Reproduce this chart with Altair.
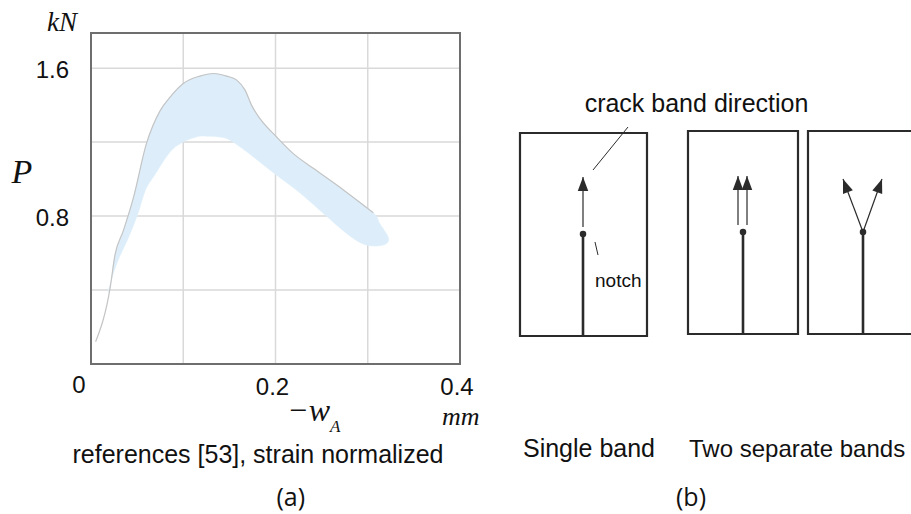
import math
import altair as alt
import pandas as pd

# ---------------- panel (a): load P [kN] vs. -w_A [mm] ----------------
upper_w = [0.005, 0.021, 0.026, 0.035, 0.046, 0.060, 0.075, 0.086, 0.100, 0.118,
           0.133, 0.147, 0.158, 0.167, 0.174, 0.183, 0.201, 0.219, 0.241, 0.274, 0.306]
upper_p = [0.12, 0.42, 0.59, 0.72, 0.90, 1.19, 1.37, 1.445, 1.517, 1.557,
           1.571, 1.557, 1.535, 1.481, 1.40, 1.328, 1.229, 1.139, 1.058, 0.94, 0.818]
lower_w = [0.019, 0.028, 0.041, 0.051, 0.059, 0.069, 0.086, 0.100, 0.115, 0.125, 0.143,
           0.154, 0.176, 0.201, 0.227, 0.256, 0.277, 0.295, 0.310, 0.3205, 0.322, 0.313]
lower_p = [0.40, 0.544, 0.688, 0.815, 0.94, 1.022, 1.148, 1.20, 1.229, 1.232, 1.225,
           1.20, 1.12, 1.022, 0.923, 0.796, 0.706, 0.649, 0.638, 0.652, 0.688, 0.76]
grid_w = [0.1, 0.2, 0.3]
grid_p = [0.4, 0.8, 1.2, 1.6]
tick_w = [0.2, 0.4]
tick_p = [0.8, 1.6]
origin_label = ["0"]
W_DOMAIN = [0, 0.4]
P_DOMAIN = [0, 1.79]

# ---------------- panel (b): schematic specimens (diagram units) ----------------
box_x0 = [0, 168, 288]
box_x1 = [127, 278, 400]
box_y0 = [0, 2, 2]
box_y1 = [203, 205, 205]
notch_x = [63, 223, 343]
notch_y = [102, 104, 104]
arrow_x0 = [63, 218, 227, 343, 343]
arrow_y0 = [109, 111, 111, 104, 104]
arrow_x1 = [63, 218, 227, 323, 362]
arrow_y1 = [159, 160, 160, 157, 157]
leader_x0 = [108, 75]
leader_y0 = [209, 94]
leader_x1 = [73, 78]
leader_y1 = [166, 81]

BAND = "#ddeefa"
DARK = "#2b2b2b"
SANS = "Liberation Sans"
SERIF = "Liberation Serif"


def ax(f):
    return alt.X(f, type="quantitative", axis=None,
                 scale=alt.Scale(domain=W_DOMAIN, range=[91, 460], nice=False, zero=False))


def ay(f):
    return alt.Y(f, type="quantitative", axis=None,
                 scale=alt.Scale(domain=P_DOMAIN, range=[364, 33], nice=False, zero=False))


def bx(f):
    return alt.X(f, type="quantitative", axis=None,
                 scale=alt.Scale(domain=[0, 400], range=[520, 920], nice=False, zero=False))


def by(f):
    return alt.Y(f, type="quantitative", axis=None,
                 scale=alt.Scale(domain=[0, 400], range=[336, -64], nice=False, zero=False))


layers = []

# grid lines
layers.append(alt.Chart(pd.DataFrame({"w": grid_w, "p0": 0.0, "p1": P_DOMAIN[1]}))
              .mark_rule(color="#d9d9d9", strokeWidth=1.5)
              .encode(x=ax("w"), y=ay("p0"), y2="p1"))
layers.append(alt.Chart(pd.DataFrame({"p": grid_p, "w0": 0.0, "w1": W_DOMAIN[1]}))
              .mark_rule(color="#d9d9d9", strokeWidth=1.5)
              .encode(y=ay("p"), x=ax("w0"), x2="w1"))

# band polygon
poly_w = upper_w[1:] + lower_w[::-1]
poly_p = upper_p[1:] + lower_p[::-1]
layers.append(alt.Chart(pd.DataFrame({"w": poly_w, "p": poly_p, "i": range(len(poly_w))}))
              .mark_line(fill=BAND, stroke=BAND, strokeWidth=0.5, interpolate="cardinal-closed")
              .encode(x=ax("w"), y=ay("p"), order="i:Q"))

# gray upper envelope
layers.append(alt.Chart(pd.DataFrame({"w": upper_w, "p": upper_p}))
              .mark_line(color="#c4c4c4", strokeWidth=1.2, interpolate="monotone")
              .encode(x=ax("w"), y=ay("p")))

# frame
layers.append(alt.Chart(pd.DataFrame({"w0": [W_DOMAIN[0]], "w1": [W_DOMAIN[1]],
                                      "p0": [P_DOMAIN[0]], "p1": [P_DOMAIN[1]]}))
              .mark_rect(filled=False, stroke="#6e6e6e", strokeWidth=2)
              .encode(x=ax("w0"), x2="w1", y=ay("p0"), y2="p1"))

# tick labels
layers.append(alt.Chart(pd.DataFrame({"p": tick_p, "w": 0.0, "t": [f"{v:g}" for v in tick_p]}))
              .mark_text(font=SANS, fontSize=24, align="right", baseline="middle", dx=-22, dy=3, color="#111")
              .encode(x=ax("w"), y=ay("p"), text="t:N"))
layers.append(alt.Chart(pd.DataFrame({"w": tick_w, "p": 0.0, "t": [f"{v:g}" for v in tick_w]}))
              .mark_text(font=SANS, fontSize=24, align="center", baseline="alphabetic", dx=-3, dy=31, color="#111")
              .encode(x=ax("w"), y=ay("p"), text="t:N"))
layers.append(alt.Chart(pd.DataFrame({"w": [0.0], "p": [0.0], "t": origin_label}))
              .mark_text(font=SANS, fontSize=24, align="center", baseline="alphabetic", dx=-12, dy=29, color="#111")
              .encode(x=ax("w"), y=ay("p"), text="t:N"))


# axis titles / units (left panel, in data units)
def ltext(t, w, p, size, font=SERIF, style="italic", align="left"):
    return (alt.Chart(pd.DataFrame({"w": [w], "p": [p], "t": [t]}))
            .mark_text(font=font, fontSize=size, fontStyle=style, align=align,
                       baseline="alphabetic", color="#111")
            .encode(x=ax("w"), y=ay("p"), text="t:N"))


layers.append(ltext("kN", -0.0314, 1.80, 27, align="center"))
layers.append(ltext("P", -0.0748, 0.978, 34, align="center"))
layers.append(ltext("\u2212w", 0.2125, -0.308, 32))
layers.append(ltext("A", 0.259, -0.368, 17))
layers.append(ltext("mm", 0.3805, -0.33, 26))
layers.append(ltext("references [53], strain normalized", 0.181, -0.535, 25,
                    font=SANS, style="normal", align="center"))
layers.append(ltext("(a)", 0.2165, -0.768, 25, font="Open Sans", style="normal", align="center"))

# ---------------- panel (b) layers ----------------
layers.append(alt.Chart(pd.DataFrame({"x0": box_x0, "x1": box_x1, "y0": box_y0, "y1": box_y1}))
              .mark_rect(filled=False, stroke=DARK, strokeWidth=2.2)
              .encode(x=bx("x0"), x2="x1", y=by("y0"), y2="y1"))

# notch lines (from bottom edge to notch tip)
layers.append(alt.Chart(pd.DataFrame({"x": notch_x, "y0": box_y0, "y1": notch_y}))
              .mark_rule(color=DARK, strokeWidth=2.6)
              .encode(x=bx("x"), y=by("y0"), y2="y1"))

# arrow shafts
layers.append(alt.Chart(pd.DataFrame({"x0": arrow_x0, "y0": arrow_y0, "x1": arrow_x1, "y1": arrow_y1}))
              .mark_rule(color=DARK, strokeWidth=1.2)
              .encode(x=bx("x0"), y=by("y0"), x2="x1", y2="y1"))

# arrow heads
HEAD = 7
hx, hy, ang = [], [], []
for x0, y0, x1, y1 in zip(arrow_x0, arrow_y0, arrow_x1, arrow_y1):
    dx, dy = x1 - x0, y1 - y0
    L = math.hypot(dx, dy)
    hx.append(x1 - HEAD * dx / L)
    hy.append(y1 - HEAD * dy / L)
    ang.append(math.degrees(math.atan2(dx, dy)) % 360)
layers.append(alt.Chart(pd.DataFrame({"x": hx, "y": hy, "a": ang}))
              .mark_point(shape="M0,-1L0.75,1L-0.75,1Z", filled=True, size=196, color=DARK, opacity=1)
              .encode(x=bx("x"), y=by("y"), angle=alt.Angle("a:Q", scale=None)))

# notch dots
layers.append(alt.Chart(pd.DataFrame({"x": notch_x, "y": notch_y}))
              .mark_circle(size=42, color=DARK, opacity=1)
              .encode(x=bx("x"), y=by("y")))

# leader lines
layers.append(alt.Chart(pd.DataFrame({"x0": leader_x0, "y0": leader_y0, "x1": leader_x1, "y1": leader_y1}))
              .mark_rule(color=DARK, strokeWidth=1)
              .encode(x=bx("x0"), y=by("y0"), x2="x1", y2="y1"))


def btext(t, x, y, size, align="center", font=SANS):
    return (alt.Chart(pd.DataFrame({"x": [x], "y": [y], "t": [t]}))
            .mark_text(font=font, fontSize=size, align=align, baseline="alphabetic", color="#111")
            .encode(x=bx("x"), y=by("y"), text="t:N"))


layers.append(btext("crack band direction", 176.5, 224, 25))
layers.append(btext("notch", 75, 49, 19, align="left"))
layers.append(btext("Single band", 69, -121, 25))
layers.append(btext("Two separate bands", 169, -121, 24, align="left"))
layers.append(btext("(b)", 171, -170, 25, font="Open Sans"))

chart = (alt.layer(*layers)
         .resolve_scale(x="independent", y="independent")
         .properties(width=911, height=514, padding=0,
                     autosize=alt.AutoSizeParams(type="none"),
                     background="white")
         .configure_view(strokeWidth=0))

chart.save("out.html", embed_options={"renderer": "svg", "actions": False})
